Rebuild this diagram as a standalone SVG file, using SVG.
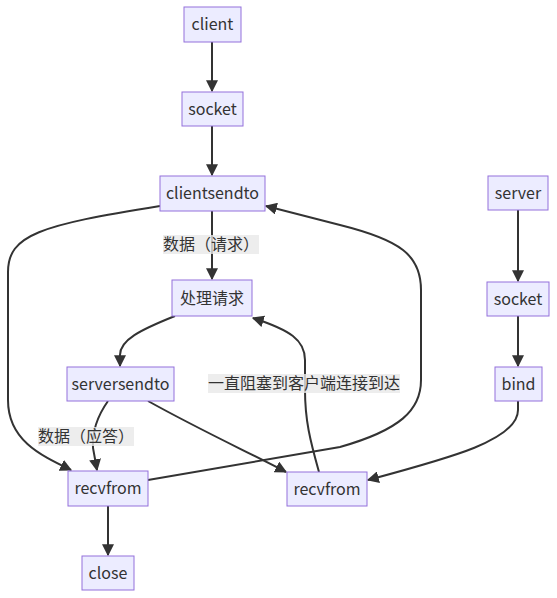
<svg xmlns="http://www.w3.org/2000/svg" width="557" height="598" viewBox="0 0 557 598">
<style>
.node rect{fill:#ECECFF;stroke:#9370DB;stroke-width:1}
text{font-family:"Noto Sans CJK SC","DejaVu Sans",sans-serif;font-size:16px;fill:#333;text-anchor:middle;dominant-baseline:central}
.edge{fill:none;stroke:#333;stroke-width:2;marker-end:url(#arr)}
.lbl rect{fill:#e8e8e8;opacity:0.8}
</style>
<defs>
<marker id="arr" viewBox="0 0 10 10" refX="9" refY="5" markerWidth="6" markerHeight="6" markerUnits="strokeWidth" orient="auto">
<path d="M0,0 L10,5 L0,10 z" fill="#333"/>
</marker>
</defs>
<rect width="557" height="598" fill="#fff"/>
<g id="connectors">
<path class="edge" d="M212,42 L212,91"/>
<path class="edge" d="M212,126 L212,175"/>
<path class="edge" d="M212,211 L212,279"/>
<path class="edge" d="M175,316 C140,330 120,340 120,355 L120,366"/>
<path class="edge" d="M108,401 C96,418 92,432 93,448 L97,470"/>
<path class="edge" d="M160,206 C40,225 8,235 8,272 L8,400 C8,440 40,455 71,470"/>
<path class="edge" d="M148,401 C200,430 250,453 286,472"/>
<path class="edge" d="M148,480 L340,447 C400,430 421,410 421,380 L421,290 C421,255 400,240 340,225 L266,206"/>
<path class="edge" d="M319,472 C310,440 305,420 305,390 L305,360 C305,340 290,330 253,318"/>
<path class="edge" d="M518,401 L518,410 C518,440 450,458 368,480"/>
<path class="edge" d="M108,506 L108,555"/>
<path class="edge" d="M518,210 L518,281"/>
<path class="edge" d="M518,316 L518,366"/>
</g>
<g id="labels">
<g class="lbl"><rect x="163" y="235" width="96" height="19"/><text x="211" y="243">数据（请求）</text></g>
<g class="lbl"><rect x="208" y="374" width="192" height="19"/><text x="304" y="382">一直阻塞到客户端连接到达</text></g>
<g class="lbl"><rect x="38" y="427" width="96" height="19"/><text x="86" y="435">数据（应答）</text></g>
</g>
<g id="client" class="node"><rect x="184" y="7" width="57" height="35"/><text x="212.5" y="23">client</text></g>
<g id="socket" class="node"><rect x="182" y="92" width="61" height="34"/><text x="212.5" y="107.5">socket</text></g>
<g id="clientsendto" class="node"><rect x="160" y="176" width="105" height="35"/><text x="212.5" y="192">clientsendto</text></g>
<g id="process" class="node"><rect x="172" y="280" width="80" height="36"/><text x="212" y="297">处理请求</text></g>
<g id="serversendto" class="node"><rect x="67" y="367" width="107" height="34"/><text x="120.5" y="382.5">serversendto</text></g>
<g id="recvfrom1" class="node"><rect x="68" y="471" width="80" height="35"/><text x="108" y="487">recvfrom</text></g>
<g id="close" class="node"><rect x="82" y="556" width="52" height="34"/><text x="108" y="571.5">close</text></g>
<g id="recvfrom2" class="node"><rect x="287" y="472" width="80" height="34"/><text x="327" y="487.5">recvfrom</text></g>
<g id="server" class="node"><rect x="488" y="176" width="60" height="34"/><text x="518" y="191.5">server</text></g>
<g id="socket2" class="node"><rect x="487" y="282" width="62" height="34"/><text x="518" y="297.5">socket</text></g>
<g id="bind" class="node"><rect x="495" y="367" width="47" height="34"/><text x="518.5" y="382.5">bind</text></g>
</svg>
